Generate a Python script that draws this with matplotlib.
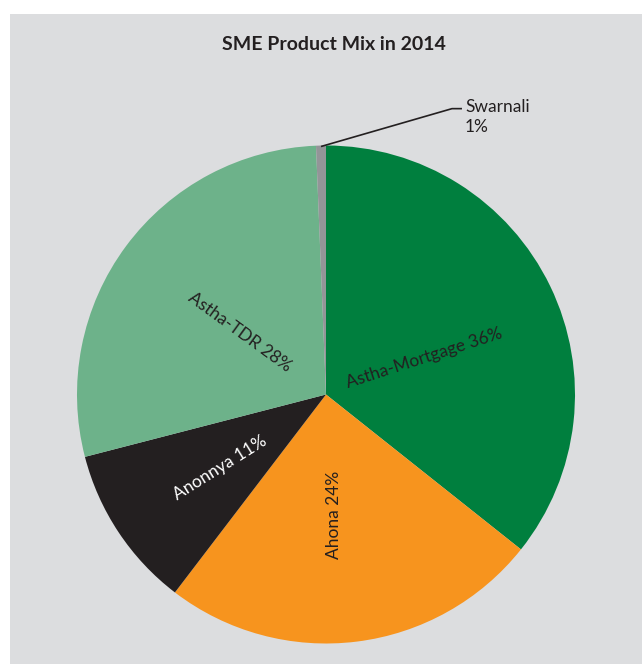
import matplotlib

matplotlib.use("Agg")
import matplotlib.pyplot as plt
from matplotlib.patches import Rectangle

products = ["Astha-Mortgage", "Ahona", "Anonnya", "Astha-TDR", "Swarnali"]
shares = [35.7, 24.7, 10.6, 28.4, 0.64]
pct_labels = ["36%", "24%", "11%", "28%", "1%"]
colors = ["#007f3e", "#f7941e", "#231f20", "#6db28a", "#939598"]

plt.rcParams["font.family"] = ["Lato", "DejaVu Sans"]

W, H = 642, 664
fig = plt.figure(figsize=(W / 100, H / 100), dpi=100)
fig.patch.set_facecolor("white")

# grey chart panel, behind everything
fig.patches.append(Rectangle((10 / W, 0), 1, (H - 14) / H, transform=fig.transFigure,
                             facecolor="#dcdddf", edgecolor="none", zorder=-10))

fig.text(334 / W, 1 - 44 / H, "SME Product Mix in 2014", ha="center", va="center",
         fontsize=14, fontweight="bold", color="#231f20")

cx, cy, r = 326, 394.5, 249
ax = fig.add_axes([(cx - r) / W, (H - cy - r) / H, 2 * r / W, 2 * r / H])
ax.set_facecolor("none")
ax.pie(shares, colors=colors, startangle=90, counterclock=False, radius=1,
       wedgeprops=dict(linewidth=0))
ax.set_xlim(-1, 1)
ax.set_ylim(-1, 1)
ax.set_aspect("equal")
ax.axis("off")

# in-slice labels (position in radius units, rotation in degrees)
label_pos = [(0.394, 0.147), (0.032, -0.484), (-0.426, -0.295), (-0.345, 0.251)]
label_rot = [18, 90, 32, -36]
label_col = ["#231f20", "#231f20", "white", "#231f20"]
for i in range(4):
    ax.text(label_pos[i][0], label_pos[i][1], f"{products[i]} {pct_labels[i]}",
            ha="center", va="center", rotation=label_rot[i], rotation_mode="anchor",
            fontsize=12.5, color=label_col[i])

# leader line for the small slice
ax.plot([-0.02, 0.506, 0.546], [0.996, 1.148, 1.148], color="#231f20", lw=1.2,
        clip_on=False, solid_capstyle="butt")
ax.text(0.558, 1.116, f"{products[4]}\n{pct_labels[4]}", ha="left", va="center",
        fontsize=12.5, color="#231f20", linespacing=1.3)

fig.savefig("out.png", dpi=100, facecolor=fig.get_facecolor())
